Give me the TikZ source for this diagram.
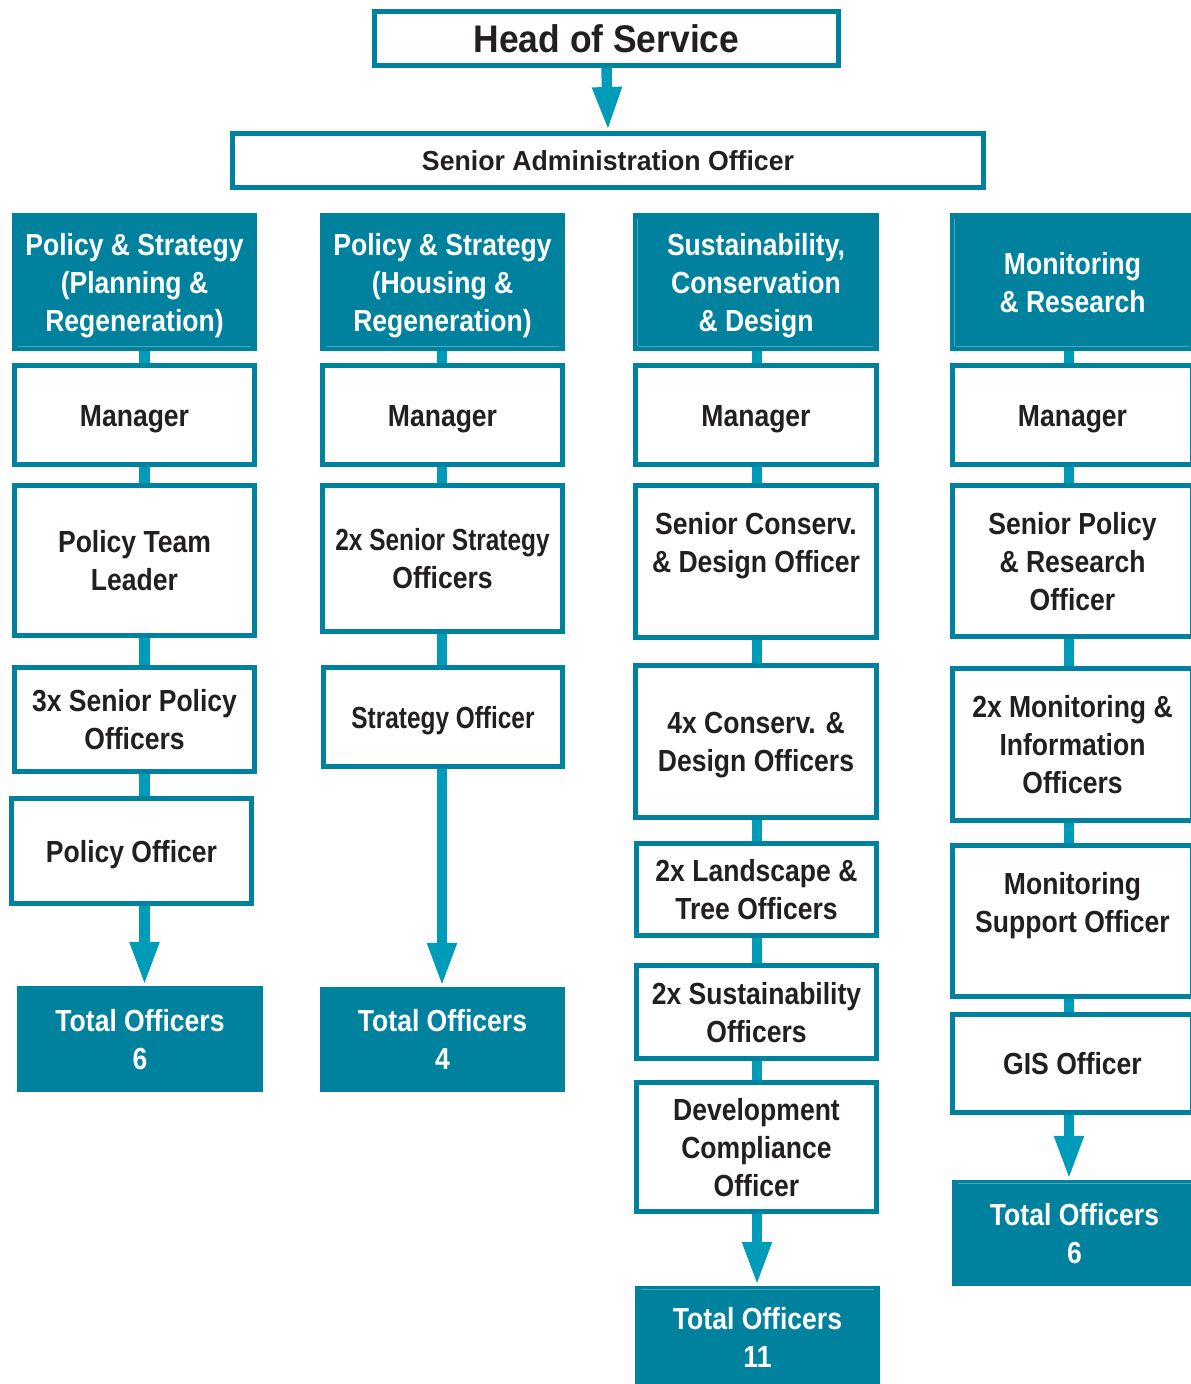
\documentclass[tikz,border=0pt]{standalone}
\usepackage{fontspec}
\setmainfont{Liberation Sans}[FakeStretch=0.87]
\newfontfamily\narrowface{Liberation Sans}[FakeStretch=0.80]
\newfontfamily\topface{Liberation Sans}[FakeStretch=0.92]
\newfontfamily\wideface{Liberation Sans}[FakeStretch=0.97]
\usetikzlibrary{arrows.meta,backgrounds}

\definecolor{teal1}{HTML}{00829F}
\definecolor{teal2}{HTML}{009BB8}
\definecolor{ink}{HTML}{231F20}

% line struts: every text line gets the same box, centred on its cap height
\newcommand{\ls}{\rule[-8pt]{0pt}{38pt}}

\tikzset{
  x=1pt, y=-1pt,
  txt/.style={font=\fontsize{30.5}{38}\selectfont\bfseries, align=center, inner sep=0pt},
  post/.style={txt, draw=teal1, line width=5pt, fill=white, text=ink},
  head/.style={txt, fill=teal1, text=white},
  sheen/.style={draw=teal1!70!white, line width=0.8pt},
  link/.style={draw=teal2, line width=10.5pt},
  flow/.style={link, -{Triangle[width=27pt,length=44pt]}},
}

% boxes given by their outer corners (x1,y1) -- (x2,y2)
\newcommand{\postbox}[6]{%
  \node[post, minimum width={#4-#2-5}, minimum height={#5-#3-5}]
    (#1) at ({(#2+#4)/2},{(#3+#5)/2}) {#6};}
\newcommand{\headbox}[6]{%
  \node[head, minimum width={#4-#2}, minimum height={#5-#3}]
    (#1) at ({(#2+#4)/2},{(#3+#5)/2}) {#6};}

\begin{document}
\begin{tikzpicture}
\useasboundingbox (0,0) rectangle (1191,1384);
\clip (0,0) rectangle (1191,1384);

% top of the chart
\node[post, font=\topface\fontsize{38.5}{44}\selectfont\bfseries,
      minimum width=464, minimum height=54] (hos) at (606.5,38.5)
      {\rule[-6pt]{0pt}{40pt}Head of Service};
\node[post, font=\wideface\fontsize{27.5}{32}\selectfont\bfseries,
      minimum width=751, minimum height=54] (sao) at (608,160.5)
      {\rule[-5pt]{0pt}{30pt}Senior Administration Officer};

% columns: x positions of the vertical links
\coordinate (c1) at (144.5,0);
\coordinate (c2) at (442,0);
\coordinate (c3) at (757,0);
\coordinate (c4) at (1069,0);

% --- Policy & Strategy (Planning & Regeneration)
\headbox{h1}{12}{213}{257}{351}{\ls Policy \& Strategy\\\ls(Planning \&\\\ls Regeneration)}
\postbox{a1}{12}{363}{257}{467}{\ls Manager}
\postbox{a2}{12}{483}{257}{638}{\ls Policy Team\\\ls Leader}
\postbox{a3}{12}{665}{257}{774}{\ls 3x Senior Policy\\\ls Officers}
\postbox{a4}{9}{796}{254}{906}{\ls Policy Officer}
\headbox{t1}{17}{986}{263}{1092}{\ls Total Officers\\\ls 6}

% --- Policy & Strategy (Housing & Regeneration)
\headbox{h2}{320}{213}{565}{351}{\ls Policy \& Strategy\\\ls(Housing \&\\\ls Regeneration)}
\postbox{b1}{320}{363}{565}{467}{\ls Manager}
\postbox{b2}{320}{483}{565}{634}{\narrowface\ls 2x Senior Strategy\\\ls Officers}
\postbox{b3}{321}{665}{565}{769}{\narrowface\ls Strategy Officer}
\headbox{t2}{320}{987}{565}{1092}{\ls Total Officers\\\ls 4}

% --- Sustainability, Conservation & Design
\headbox{h3}{633}{213}{879}{351}{\ls Sustainability,\\\ls Conservation\\\ls\& Design}
\postbox{d1}{633}{363}{879}{467}{\ls Manager}
\postbox{d2}{633}{483}{879}{640}{\ls Senior Conserv.\\\ls\& Design Officer\\\ls}
\postbox{d3}{633}{663}{879}{820}{\ls 4x Conserv. \&\\\ls Design Officers}
\postbox{d4}{634}{841}{879}{938}{\ls 2x Landscape \&\\\ls Tree Officers}
\postbox{d5}{634}{963}{879}{1061}{\ls 2x Sustainability\\\ls Officers}
\postbox{d6}{634}{1080}{879}{1214}{\ls Development\\\ls Compliance\\\ls Officer}
\headbox{t3}{635}{1286}{880}{1388}{\ls Total Officers\\\ls 11}

% --- Monitoring & Research
\headbox{h4}{950}{213}{1195}{351}{\ls Monitoring\\\ls\& Research}
\postbox{m1}{950}{363}{1195}{467}{\ls Manager}
\postbox{m2}{950}{483}{1195}{639}{\ls Senior Policy\\\ls\& Research\\\ls Officer}
\postbox{m3}{950}{666}{1195}{823}{\ls 2x Monitoring \&\\\ls Information\\\ls Officers}
\postbox{m4}{950}{843}{1195}{999}{\ls Monitoring\\\ls Support Officer\\\ls}
\postbox{m5}{950}{1012}{1195}{1115}{\ls GIS Officer}
\headbox{t4}{952}{1180}{1197}{1286}{\ls Total Officers\\\ls 6}

% faint highlight edges on the filled boxes
\foreach \h in {h1,h2,h3,h4}
  \draw[sheen] ([xshift=6pt,yshift=5pt]\h.south west) -- ([xshift=-6pt,yshift=5pt]\h.south east);
\foreach \h in {h3,h4}
  \draw[sheen] ([xshift=5pt,yshift=5pt]\h.south west) -- ([xshift=5pt,yshift=-6pt]\h.north west);
\foreach \h in {t3,t4}
  \draw[sheen] ([xshift=6pt,yshift=-4pt]\h.north west) -- ([xshift=-6pt,yshift=-4pt]\h.north east);

% links and arrows behind the boxes
\begin{scope}[on background layer]
  \draw[flow] (hos.south) -- (sao.north);
  \foreach \u/\v in {h1/a1,a1/a2,a2/a3,a3/a4}
    \draw[link] (\u.south -| c1) -- (\v.north -| c1);
  \draw[flow] (a4.south -| c1) -- (t1.north -| c1);
  \foreach \u/\v in {h2/b1,b1/b2,b2/b3}
    \draw[link] (\u.south -| c2) -- (\v.north -| c2);
  \draw[flow] (b3.south -| c2) -- (t2.north -| c2);
  \foreach \u/\v in {h3/d1,d1/d2,d2/d3,d3/d4,d4/d5,d5/d6}
    \draw[link] (\u.south -| c3) -- (\v.north -| c3);
  \draw[flow] (d6.south -| c3) -- (t3.north -| c3);
  \foreach \u/\v in {h4/m1,m1/m2,m2/m3,m3/m4,m4/m5}
    \draw[link] (\u.south -| c4) -- (\v.north -| c4);
  \draw[flow] (m5.south -| c4) -- (t4.north -| c4);
\end{scope}
\end{tikzpicture}
\end{document}
